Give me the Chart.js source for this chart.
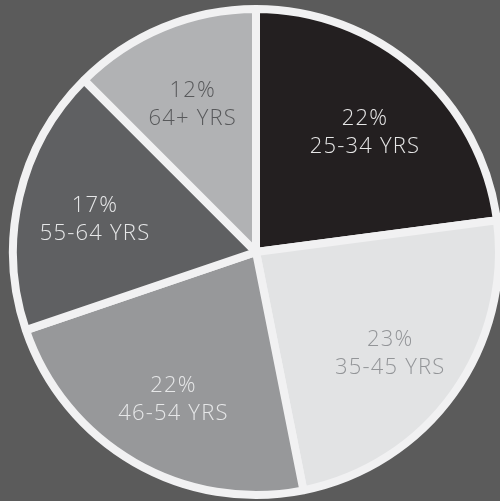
<!DOCTYPE html>
<html>
<head>
<meta charset="utf-8">
<script src="https://cdn.jsdelivr.net/npm/chart.js@4"></script>
<style>
  html, body { margin: 0; padding: 0; background: #5b5b5b; }
  #wrap { width: 500px; height: 501px; }
</style>
</head>
<body>
<div id="wrap"><canvas id="pie"></canvas></div>
<script>
// Age groups and their share of respondents (%)
const ageGroups = ['25-34 YRS', '35-45 YRS', '46-54 YRS', '55-64 YRS', '64+ YRS'];
const shares = [22, 23, 22, 17, 12];
const sliceColors = ['#231f20', '#e2e3e4', '#97989a', '#5f6062', '#b1b2b4'];
const labelColors = ['#e6e6e6', '#939598', '#e6e7e8', '#e6e7e8', '#58595b'];

// Writes "NN%" and the group name inside each slice
const sliceLabels = {
  id: 'sliceLabels',
  afterDatasetsDraw(chart) {
    const ctx = chart.ctx;
    const meta = chart.getDatasetMeta(0);
    meta.data.forEach((arc, i) => {
      const p = arc.getProps(['x', 'y', 'startAngle', 'endAngle', 'outerRadius'], true);
      const mid = (p.startAngle + p.endAngle) / 2;
      const r = p.outerRadius * 0.68;
      const cx = p.x + Math.cos(mid) * r;
      const cy = p.y + Math.sin(mid) * r + 5;
      ctx.save();
      ctx.fillStyle = labelColors[i];
      ctx.font = '300 22px "Open Sans"';
      ctx.letterSpacing = '1.2px';
      ctx.textAlign = 'center';
      ctx.textBaseline = 'middle';
      ctx.fillText(shares[i] + '%', cx, cy - 14);
      ctx.fillText(ageGroups[i], cx, cy + 14);
      ctx.restore();
    });
  }
};

new Chart(document.getElementById('pie'), {
  type: 'pie',
  data: {
    labels: ageGroups,
    datasets: [{
      data: shares,
      backgroundColor: sliceColors,
      borderColor: '#f1f1f2',
      borderWidth: 8,
      hoverOffset: 0
    }]
  },
  options: {
    responsive: true,
    maintainAspectRatio: false,
    animation: false,
    radius: 243,
    layout: { padding: { left: 12, right: 0, top: 3, bottom: 0 } },
    plugins: {
      legend: { display: false },
      tooltip: { enabled: false }
    }
  },
  plugins: [sliceLabels]
});
</script>
</body>
</html>
